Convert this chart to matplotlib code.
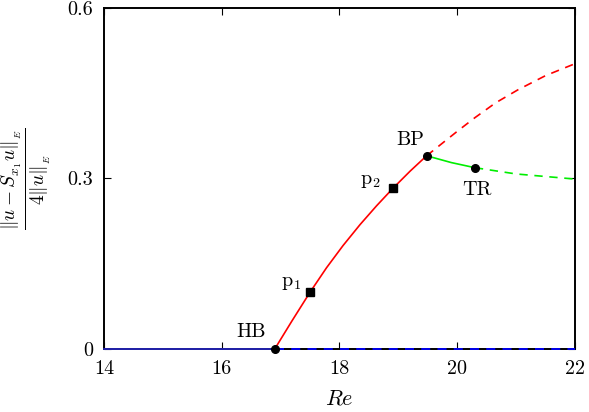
import numpy as np
import matplotlib
matplotlib.use('Agg')
import matplotlib.pyplot as plt

plt.rcParams['font.family'] = 'serif'
plt.rcParams['font.serif'] = ['cmr10', 'DejaVu Serif']
plt.rcParams['mathtext.fontset'] = 'cm'
plt.rcParams['axes.formatter.use_mathtext'] = True

# =================== data ===================
# base state (trivial branch)
base_re_stable = [14.0, 16.90]
base_re_unstable = [16.90, 22.0]
base_val = [0.0, 0.0]

# periodic branch (red), stable part up to BP
red_re = [16.90, 17.19, 17.50, 17.78, 18.06, 18.35, 18.63, 18.91, 19.20, 19.48]
red_val = [0.0, 0.049, 0.100, 0.143, 0.182, 0.219, 0.252, 0.283, 0.313, 0.340]
# red, unstable past BP
red_re_dash = [19.48, 20.00, 20.30, 20.65, 21.03, 21.50, 22.0]
red_val_dash = [0.340, 0.383, 0.407, 0.433, 0.456, 0.481, 0.502]

# green branch from BP to TR, then unstable
green_re = [19.48, 19.90, 20.30]
green_val = [0.340, 0.328, 0.319]
green_re_dash = [20.30, 21.00, 22.0]
green_val_dash = [0.319, 0.308, 0.299]

# special points
circ_re = [16.90, 19.48, 20.30]
circ_val = [0.0, 0.340, 0.319]
sq_re = [17.50, 18.91]
sq_val = [0.100, 0.283]

# point labels and where they sit
pt_names = ['HB', 'BP', 'TR', 'p$_1$', 'p$_2$']
pt_text_re = [16.50, 19.20, 20.34, 17.17, 18.53]
pt_text_val = [0.021, 0.359, 0.271, 0.111, 0.290]

xticks = [14, 16, 18, 20, 22]
yticks = [0, 0.3, 0.6]
ytick_labels = ['0', '0.3', '0.6']

# =================== plot ===================
fig = plt.figure(figsize=(5.89, 4.12), dpi=100)
ax = fig.add_axes([0.1766, 0.1529, 0.7996, 0.8277])

dash = (0, (5, 4))
ax.plot(base_re_stable, base_val, color='#2424b8', lw=1.3, clip_on=False, zorder=3)
ax.plot(base_re_unstable, base_val, color='#0000ff', lw=1.3, ls=dash, clip_on=False, zorder=3)

ax.plot(red_re, red_val, color='red', lw=1.2)
ax.plot(red_re_dash, red_val_dash, color='red', lw=1.2, ls=dash)
ax.plot(green_re, green_val, color='#00ee00', lw=1.2)
ax.plot(green_re_dash, green_val_dash, color='#00ee00', lw=1.2, ls=dash)

ax.plot(circ_re, circ_val, 'o', color='black', ms=5.5, clip_on=False, zorder=5)
ax.plot(sq_re, sq_val, 's', color='black', ms=5.5, zorder=5)

for name, tx, ty in zip(pt_names, pt_text_re, pt_text_val):
    ax.text(tx, ty, name, fontsize=14.5, ha='center', va='baseline')

ax.set_xlim(14, 22)
ax.set_ylim(0, 0.6)
ax.set_xticks(xticks)
ax.set_xticklabels([str(t) for t in xticks])
ax.set_yticks(yticks)
ax.set_yticklabels(ytick_labels)
ax.tick_params(direction='in', top=True, right=True, labelsize=14.5, length=5, width=0.8, pad=8)

for s in ax.spines.values():
    s.set_linewidth(1.4)

ax.set_xlabel('$Re$', fontsize=16)
ax.xaxis.set_label_coords(0.5, -0.118)
ax.set_ylabel(r'$\frac{\|u - S_{x_1}u\|_{_E}}{4\|u\|_{_E}}$', fontsize=20)
ax.yaxis.set_label_coords(-0.108, 0.5)

fig.savefig('out.png', dpi=100)
